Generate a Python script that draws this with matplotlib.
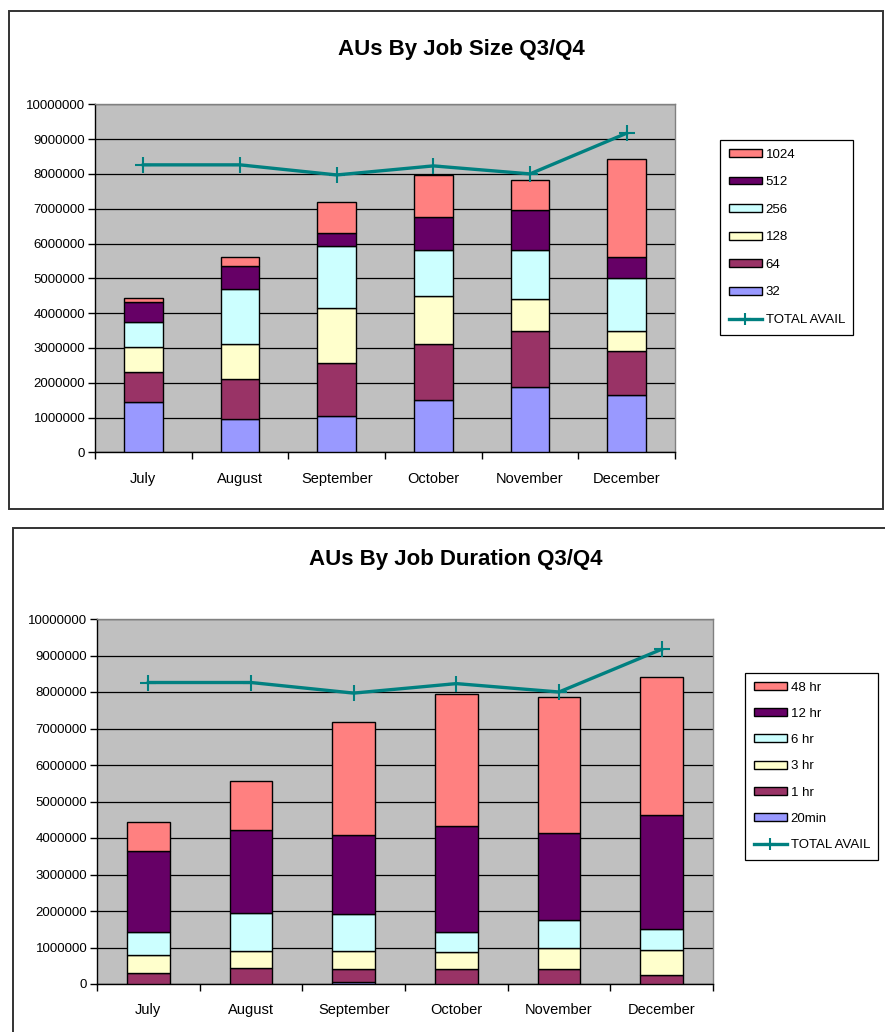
import matplotlib
matplotlib.use("Agg")
import matplotlib.pyplot as plt
from matplotlib.patches import Rectangle
from matplotlib.ticker import FuncFormatter, FixedLocator
import numpy as np

plt.rcParams['font.family'] = ['Liberation Sans', 'DejaVu Sans']

months = ["July", "August", "September", "October", "November", "December"]

# Allocation units by job size (processor count)
size_labels = ["32", "64", "128", "256", "512", "1024"]
size_32 = [1440000, 960000, 1040000, 1490000, 1870000, 1660000]
size_64 = [880000, 1160000, 1530000, 1620000, 1620000, 1250000]
size_128 = [700000, 990000, 1580000, 1370000, 910000, 580000]
size_256 = [710000, 1570000, 1780000, 1330000, 1410000, 1510000]
size_512 = [590000, 680000, 370000, 960000, 1160000, 610000]
size_1024 = [120000, 260000, 880000, 1200000, 860000, 2820000]

# Allocation units by job duration
dur_labels = ["20min", "1 hr", "3 hr", "6 hr", "12 hr", "48 hr"]
dur_20min = [0, 0, 50000, 0, 0, 0]
dur_1hr = [290000, 450000, 350000, 400000, 400000, 250000]
dur_3hr = [500000, 450000, 500000, 470000, 580000, 680000]
dur_6hr = [640000, 1050000, 1030000, 560000, 760000, 580000]
dur_12hr = [2210000, 2260000, 2160000, 2900000, 2410000, 3120000]
dur_48hr = [790000, 1360000, 3090000, 3610000, 3700000, 3790000]

total_avail = [8260000, 8260000, 7970000, 8230000, 8000000, 9170000]

colors = ["#9999FF", "#993366", "#FFFFCC", "#CCFFFF", "#660066", "#FF8080"]
line_color = "#008080"

W, H = 885, 1032
fig = plt.figure(figsize=(W / 100, H / 100), dpi=100)


def px_rect(x0, y0, x1, y1):
    return [x0 / W, 1 - y1 / H, (x1 - x0) / W, (y1 - y0) / H]


# Chart frames
for (x0, y0, x1, y1) in [(9, 11, 883, 509), (13, 528, 895, 1045)]:
    fig.patches.append(Rectangle((x0 / W, 1 - y1 / H), (x1 - x0) / W, (y1 - y0) / H,
                                 transform=fig.transFigure, fill=False,
                                 edgecolor="#333333", linewidth=1.4, zorder=0))


def draw_chart(rect, series, labels, title, title_xy, legend_xy, label_pad, bar_w, spacing):
    ax = fig.add_axes(rect)
    ax.set_facecolor("#C0C0C0")
    x = np.arange(len(months))
    bottom = np.zeros(len(months))
    handles = []
    for vals, lab, col in zip(series, labels, colors):
        b = ax.bar(x, vals, bar_w, bottom=bottom, color=col, edgecolor="black",
                   linewidth=1.0, label=lab, zorder=3)
        handles.append(b)
        bottom += np.array(vals)
    ln, = ax.plot(x, total_avail, color=line_color, linewidth=2.4, marker="+",
                  markersize=11, markeredgewidth=1.5, label="TOTAL AVAIL", zorder=4)

    ax.set_xlim(-0.5, len(months) - 0.5)
    ax.set_ylim(0, 10000000)
    ax.set_yticks(np.arange(0, 10000001, 1000000))
    ax.yaxis.set_major_formatter(FuncFormatter(lambda v, p: f"{int(v)}"))
    ax.yaxis.grid(True, color="black", linewidth=0.9, zorder=1)
    ax.set_axisbelow(True)

    ax.set_xticks(x)
    ax.set_xticklabels(months)
    ax.xaxis.set_minor_locator(FixedLocator(np.arange(-0.5, len(months), 1.0)))
    ax.tick_params(axis="x", which="major", length=0, pad=label_pad, labelsize=10.5)
    ax.tick_params(axis="x", which="minor", length=5, width=1, direction="out", color="black")
    ax.tick_params(axis="y", length=5, width=1, direction="out", pad=2, labelsize=9.5)

    for s in ["left", "bottom"]:
        ax.spines[s].set_color("black")
        ax.spines[s].set_linewidth(1.0)
    for s in ["top", "right"]:
        ax.spines[s].set_color("#808080")
        ax.spines[s].set_linewidth(1.0)

    fig.text(title_xy[0] / W, 1 - title_xy[1] / H, title, ha="center", va="center",
             fontsize=16, fontweight="bold")

    leg = ax.legend(handles[::-1] + [ln], labels[::-1] + ["TOTAL AVAIL"],
                    loc="upper left", bbox_to_anchor=(legend_xy[0] / W, 1 - legend_xy[1] / H),
                    bbox_transform=fig.transFigure, borderaxespad=0, fontsize=9.5,
                    handlelength=2.5, handleheight=0.55, handletextpad=0.3,
                    labelspacing=spacing, borderpad=0.65, fancybox=False, framealpha=1,
                    edgecolor="black", markerscale=0.8)
    leg.get_frame().set_linewidth(0.9)
    return ax


draw_chart(px_rect(95, 104.3, 675, 452.3),
           [size_32, size_64, size_128, size_256, size_512, size_1024], size_labels,
           "AUs By Job Size Q3/Q4", (461, 49), (720, 140), 14.5, 0.40, 1.18)

draw_chart(px_rect(97, 619, 713, 984),
           [dur_20min, dur_1hr, dur_3hr, dur_6hr, dur_12hr, dur_48hr], dur_labels,
           "AUs By Job Duration Q3/Q4", (456, 560), (745, 673), 13.5, 0.415, 1.08)

fig.savefig("out.png", dpi=100)
